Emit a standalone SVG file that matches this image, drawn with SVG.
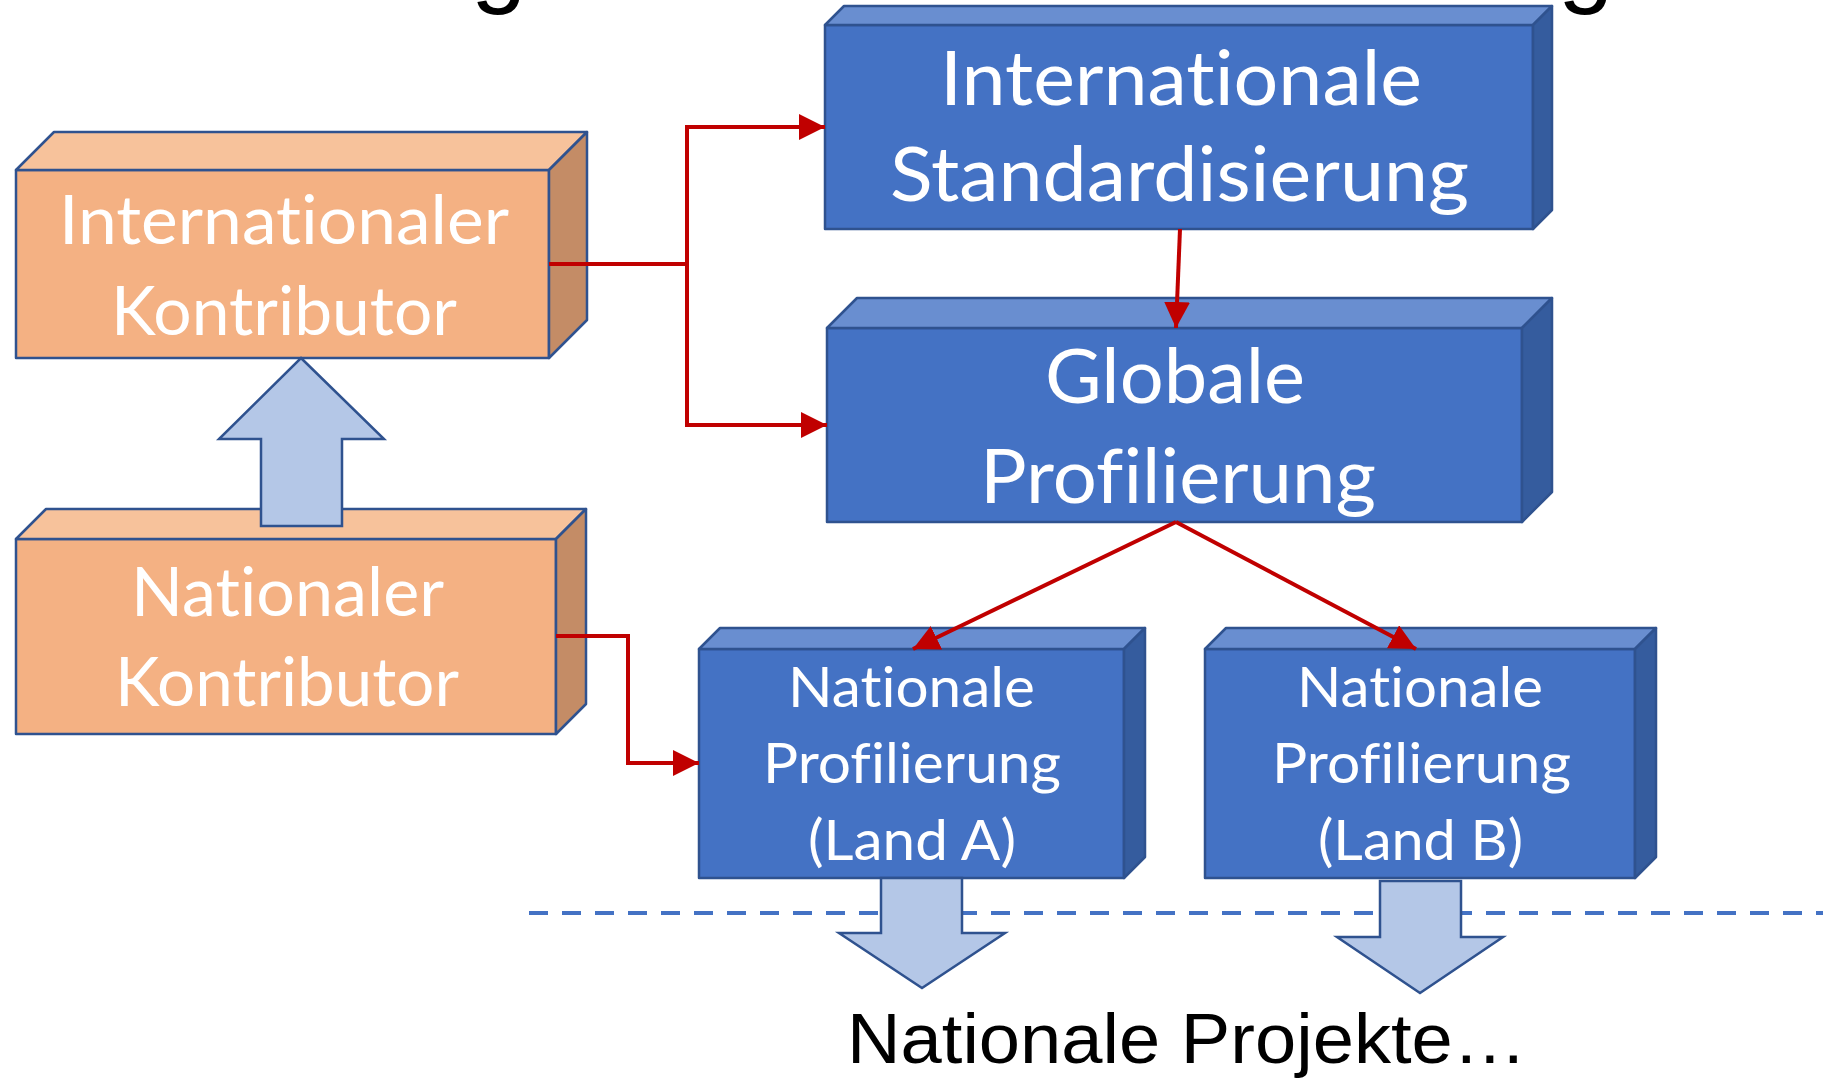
<svg xmlns="http://www.w3.org/2000/svg" width="1823" height="1078" viewBox="0 0 1823 1078">
<defs>
<style>
.fo{fill:#F4B183;stroke:#2F528F;stroke-width:2.5;stroke-linejoin:round}
.to{fill:#F7C29B;stroke:#2F528F;stroke-width:2.5;stroke-linejoin:round}
.so{fill:#C48C66;stroke:#2F528F;stroke-width:2.5;stroke-linejoin:round}
.fb{fill:#4472C4;stroke:#2F528F;stroke-width:2.5;stroke-linejoin:round}
.tb{fill:#698ED0;stroke:#2F528F;stroke-width:2.5;stroke-linejoin:round}
.sb{fill:#355C9E;stroke:#2F528F;stroke-width:2.5;stroke-linejoin:round}
.lbl{font-family:Lato,"Open Sans","Noto Sans",sans-serif;fill:#FFFFFF;text-anchor:middle;font-variant-ligatures:none;font-feature-settings:"liga" 0,"clig" 0,"dlig" 0}
.con{fill:none;stroke:#C00000;stroke-width:4;marker-end:url(#ah)}
.blk{fill:#B4C7E7;stroke:#2F528F;stroke-width:2.5;stroke-linejoin:miter}
</style>
<marker id="ah" viewBox="0 0 10 10" refX="10" refY="5" markerWidth="26" markerHeight="26" markerUnits="userSpaceOnUse" orient="auto">
<path d="M0,0 L10,5 L0,10 z" fill="#C00000"/>
</marker>
</defs>
<rect width="1823" height="1078" fill="#FFFFFF"/>

<g id="title-fragment" font-family="'Liberation Sans',Arial,sans-serif" font-size="100" fill="#000000">
<text x="471" y="-6">g</text>
<text x="1558" y="-6">g</text>
</g>

<line id="separator" x1="529" y1="913" x2="1823" y2="913" stroke="#4472C4" stroke-width="4" stroke-dasharray="19 14"/>

<g id="node-int-kontributor">
<rect class="fo" x="16" y="170" width="533" height="188"/>
<polygon class="to" points="16,170 54,132 587,132 549,170"/>
<polygon class="so" points="549,170 587,132 587,320 549,358"/>
<text class="lbl" font-size="67" x="284" y="244" textLength="450" lengthAdjust="spacingAndGlyphs">Internationaler</text>
<text class="lbl" font-size="67" x="284" y="335" textLength="346" lengthAdjust="spacingAndGlyphs">Kontributor</text>
</g>

<g id="node-nat-kontributor">
<rect class="fo" x="16" y="539" width="540" height="195"/>
<polygon class="to" points="16,539 46,509 586,509 556,539"/>
<polygon class="so" points="556,539 586,509 586,704 556,734"/>
<text class="lbl" font-size="67" x="287.5" y="616" textLength="313" lengthAdjust="spacingAndGlyphs">Nationaler</text>
<text class="lbl" font-size="67" x="287" y="706" textLength="344" lengthAdjust="spacingAndGlyphs">Kontributor</text>
</g>

<g id="node-int-standardisierung">
<rect class="fb" x="825" y="25" width="708" height="204"/>
<polygon class="tb" points="825,25 844,6 1552,6 1533,25"/>
<polygon class="sb" points="1533,25 1552,6 1552,210 1533,229"/>
<text class="lbl" font-size="76" x="1181" y="105" textLength="482" lengthAdjust="spacingAndGlyphs">Internationale</text>
<text class="lbl" font-size="76" x="1179.5" y="201" textLength="579" lengthAdjust="spacingAndGlyphs">Standardisierung</text>
</g>

<g id="node-globale-profilierung">
<rect class="fb" x="827" y="328" width="695" height="194"/>
<polygon class="tb" points="827,328 857,298 1552,298 1522,328"/>
<polygon class="sb" points="1522,328 1552,298 1552,492 1522,522"/>
<text class="lbl" font-size="76" x="1175" y="403" textLength="260" lengthAdjust="spacingAndGlyphs">Globale</text>
<text class="lbl" font-size="76" x="1178" y="503" textLength="396" lengthAdjust="spacingAndGlyphs">Profilierung</text>
</g>

<g id="node-land-a">
<rect class="fb" x="699" y="649" width="425" height="229"/>
<polygon class="tb" points="699,649 720,628 1145,628 1124,649"/>
<polygon class="sb" points="1124,649 1145,628 1145,857 1124,878"/>
<text class="lbl" font-size="57" x="911.5" y="707" textLength="247" lengthAdjust="spacingAndGlyphs">Nationale</text>
<text class="lbl" font-size="57" x="912" y="783" textLength="298" lengthAdjust="spacingAndGlyphs">Profilierung</text>
<text class="lbl" font-size="57" x="912" y="860" textLength="208" lengthAdjust="spacingAndGlyphs">(Land A)</text>
</g>

<g id="node-land-b">
<rect class="fb" x="1205" y="649" width="430" height="229"/>
<polygon class="tb" points="1205,649 1226,628 1656,628 1635,649"/>
<polygon class="sb" points="1635,649 1656,628 1656,857 1635,878"/>
<text class="lbl" font-size="57" x="1420" y="707" textLength="246" lengthAdjust="spacingAndGlyphs">Nationale</text>
<text class="lbl" font-size="57" x="1421.5" y="783" textLength="299" lengthAdjust="spacingAndGlyphs">Profilierung</text>
<text class="lbl" font-size="57" x="1420.5" y="860" textLength="205" lengthAdjust="spacingAndGlyphs">(Land B)</text>
</g>

<g id="connectors">
<path class="con" d="M549,264 H687 V127 H825"/>
<path class="con" d="M549,264 H687 V425 H827"/>
<path class="con" d="M556,636 H628 V763 H699"/>
<path class="con" d="M1180,229 L1176,328"/>
<path class="con" d="M1176,522 L913,649"/>
<path class="con" d="M1176,522 L1416,649"/>
</g>

<g id="block-arrows">
<polygon class="blk" points="301,358 384,439 342,439 342,526 261,526 261,439 219,439"/>
<polygon class="blk" points="881,878 962,878 962,933 1005,933 922,988 839,933 881,933"/>
<polygon class="blk" points="1380,881 1461,881 1461,937 1503,937 1420,993 1337,937 1380,937"/>
</g>

<text id="footer" x="847" y="1063" font-family="'Liberation Sans',Arial,sans-serif" font-size="71" fill="#000000" textLength="680" lengthAdjust="spacingAndGlyphs">Nationale Projekte…</text>
</svg>
